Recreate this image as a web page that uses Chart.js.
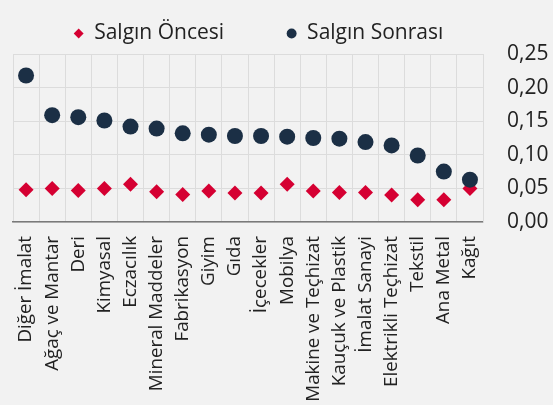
<!DOCTYPE html>
<html>
<head>
<meta charset="utf-8">
<script src="https://cdn.jsdelivr.net/npm/chart.js@4/dist/chart.umd.min.js"></script>
<style>
html,body{margin:0;padding:0;background:#f2f2f2;}
#wrap{width:553px;height:405px;position:relative;}
</style>
</head>
<body>
<div id="wrap"><canvas id="c" width="553" height="405"></canvas></div>
<script>
const categories = ["Diğer İmalat","Ağaç ve Mantar","Deri","Kimyasal","Eczacılık","Mineral Maddeler","Fabrikasyon","Giyim","Gıda","İçecekler","Mobilya","Makine ve Teçhizat","Kauçuk ve Plastik","İmalat Sanayi","Elektrikli Teçhizat","Tekstil","Ana Metal","Kağıt"];
const before = [0.048,0.050,0.047,0.050,0.056,0.045,0.041,0.046,0.043,0.043,0.056,0.046,0.044,0.044,0.040,0.033,0.033,0.050];
const after = [0.218,0.159,0.156,0.151,0.142,0.139,0.132,0.130,0.128,0.128,0.127,0.125,0.124,0.119,0.114,0.099,0.075,0.063];
const seriesNames = ["Salgın Öncesi","Salgın Sonrası"];
const yTicks = [0,0.05,0.10,0.15,0.20,0.25];

Chart.defaults.font.family = "'Open Sans', sans-serif";
Chart.defaults.color = "#222";
Chart.defaults.animation = false;

const legendTrail = [10, 9];

new Chart(document.getElementById('c'), {
  type: 'line',
  data: {
    labels: categories,
    datasets: [
      {label: seriesNames[0], data: before, showLine:false, pointStyle:'rectRot', pointRadius:7.5, pointHoverRadius:7.5,
       backgroundColor:'#d50032', borderColor:'#d50032', borderWidth:0, order:1},
      {label: seriesNames[1], data: after, showLine:false, pointStyle:'circle', pointRadius:8, pointHoverRadius:8,
       backgroundColor:'#1b2f45', borderColor:'#1b2f45', borderWidth:0, order:0}
    ]
  },
  options: {
    responsive:false,
    layout:{padding:{left:13,right:0,top:0,bottom:0}},
    plugins:{
      legend:{
        position:'top',
        labels:{
          usePointStyle:true, boxWidth:10, boxHeight:7, padding:8,
          font:{size:21}, color:'#222',
          sort:(a,b)=>a.datasetIndex-b.datasetIndex,
          generateLabels:(chart)=>{
            const items = Chart.defaults.plugins.legend.labels.generateLabels(chart);
            items.forEach(it=>{ it.text = it.text + ' '.repeat(legendTrail[it.datasetIndex]); it.lineWidth = 0; });
            return items;
          }
        }
      },
      tooltip:{enabled:false}
    },
    scales:{
      x:{
        type:'category', offset:true,
        grid:{offset:true, color:'#dcdcdc', lineWidth:1, drawTicks:false},
        border:{color:'#7a7a7a', width:1.5},
        ticks:{autoSkip:false, maxRotation:90, minRotation:90, font:{size:18.8}, color:'#222', padding:14},
        afterFit:(s)=>{ s.height = 183; }
      },
      y:{
        position:'right', min:0, max:0.25,
        afterBuildTicks:(s)=>{s.ticks = yTicks.map(v=>({value:v}));},
        grid:{color:'#dcdcdc', lineWidth:1, drawTicks:false},
        border:{color:'#dcdcdc'},
        ticks:{font:{size:21}, color:'#222', padding:24,
          callback:(v)=>v.toFixed(2).replace('.',',')},
        afterFit:(s)=>{ s.width = 70; s.paddingTop = 54; }
      }
    }
  }
});
</script>
</body>
</html>
